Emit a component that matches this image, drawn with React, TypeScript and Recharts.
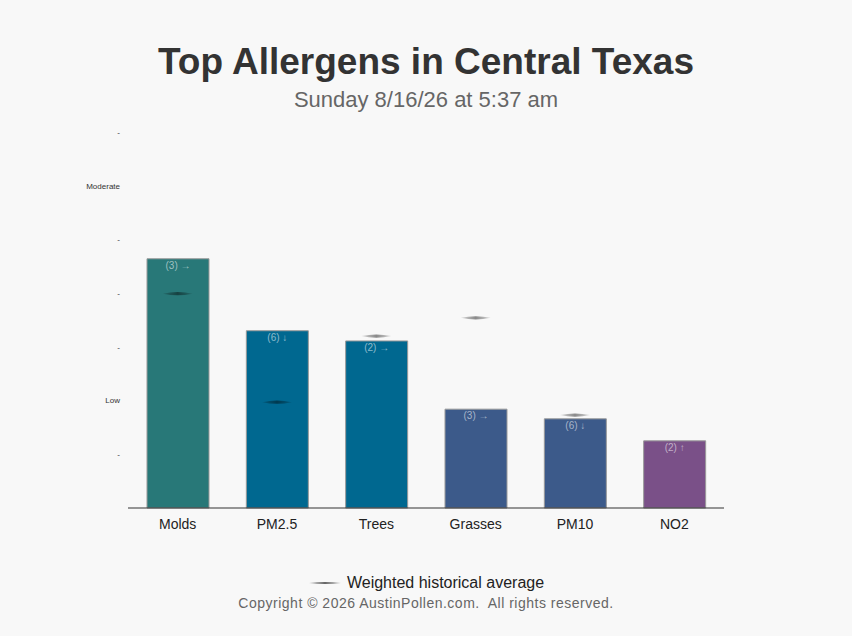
import React from "react";
import { ComposedChart, Bar, Scatter, XAxis, YAxis, Cell, LabelList } from "recharts";

const categories = ["Molds", "PM2.5", "Trees", "Grasses", "PM10", "NO2"];
const levels = [4.64, 3.3, 3.11, 1.84, 1.66, 1.25];
const averages: (number | null)[] = [3.99, 1.97, 3.2, 3.54, 1.73, null];
const counts = [3, 6, 2, 3, 6, 2];
const trends = ["→", "↓", "→", "→", "↓", "↑"];
const colors = ["#287878", "#006890", "#006890", "#3c5a8a", "#3c5a8a", "#7a5088"];
const yTicks = [0, 1, 2, 3, 4, 5, 6, 7];
const yTickLabels = ["", "-", "Low", "-", "-", "-", "Moderate", "-"];

const data = categories.map((name, i) => ({
  name,
  level: levels[i],
  avg: averages[i],
  label: `(${counts[i]}) ${trends[i]}`,
}));

const FONT = "'Liberation Sans', Arial, Helvetica, sans-serif";

const Lens = (props: any) => {
  const { cx, cy, payload } = props;
  if (payload == null || payload.avg == null || cx == null || cy == null) return null;
  const w = 15;
  return (
    <path
      d={`M${cx - w},${cy} Q${cx},${cy - 3.2} ${cx + w},${cy} Q${cx},${cy + 3.2} ${cx - w},${cy} Z`}
      fill="url(#lensGrad)"
    />
  );
};

const BarTopLabel = (props: any) => {
  const { x, y, width, value } = props;
  return (
    <text
      x={x + width / 2}
      y={y + 10}
      textAnchor="middle"
      fontSize={10}
      fontFamily={FONT}
      fill="rgba(255,255,255,0.55)"
    >
      {value}
    </text>
  );
};

export default function App() {
  return (
    <div
      style={{
        position: "absolute",
        left: 0,
        top: 0,
        width: 852,
        height: 636,
        background: "#f8f8f8",
        fontFamily: FONT,
        overflow: "hidden",
      }}
    >
      <div
        style={{
          position: "absolute",
          left: 0,
          width: 852,
          top: 42,
          height: 40,
          lineHeight: "40px",
          textAlign: "center",
          fontSize: 37,
          fontWeight: "bold",
          color: "#333",
        }}
      >
        Top Allergens in Central Texas
      </div>
      <div
        style={{
          position: "absolute",
          left: 0,
          width: 852,
          top: 88,
          height: 24,
          lineHeight: "24px",
          textAlign: "center",
          fontSize: 22,
          color: "#666",
        }}
      >
        Sunday 8/16/26 at 5:37 am
      </div>
      <div style={{ position: "absolute", left: 0, top: 0 }}>
        <ComposedChart
          width={852}
          height={636}
          data={data}
          margin={{ top: 132, right: 128, bottom: 98, left: 0 }}
        >
          <defs>
            <linearGradient id="lensGrad" x1="0" y1="0" x2="1" y2="0">
              <stop offset="0%" stopColor="#000" stopOpacity={0.12} />
              <stop offset="50%" stopColor="#000" stopOpacity={0.45} />
              <stop offset="100%" stopColor="#000" stopOpacity={0.12} />
            </linearGradient>
          </defs>
          <XAxis
            dataKey="name"
            type="category"
            height={30}
            tickLine={false}
            tickSize={6}
            tickMargin={5}
            axisLine={{ stroke: "#333", strokeWidth: 1 }}
            tick={{ fontSize: 14, fill: "#222", fontFamily: FONT }}
            interval={0}
          />
          <YAxis
            type="number"
            domain={[0, 7]}
            ticks={yTicks}
            width={128}
            axisLine={false}
            tickLine={false}
            tickSize={6}
            tickMargin={2}
            interval={0}
            tickFormatter={(v: number) => yTickLabels[yTicks.indexOf(v)] ?? ""}
            tick={{ fontSize: 8, fill: "#333", fontFamily: FONT }}
          />
          <Bar dataKey="level" barSize={62} stroke="#999" strokeWidth={1} isAnimationActive={false}>
            {data.map((d, i) => (
              <Cell key={d.name} fill={colors[i]} />
            ))}
            <LabelList dataKey="label" content={BarTopLabel} />
          </Bar>
          <Scatter dataKey="avg" shape={Lens} isAnimationActive={false} />
        </ComposedChart>
      </div>
      <div
        style={{
          position: "absolute",
          left: 0,
          width: 852,
          top: 574,
          height: 18,
          lineHeight: "18px",
          display: "flex",
          justifyContent: "center",
          alignItems: "center",
          fontSize: 16,
          color: "#222",
        }}
      >
        <svg width={34} height={6} style={{ marginRight: 5 }}>
          <path d="M1,3 Q17,1.2 33,3 Q17,4.8 1,3 Z" fill="url(#legGrad)" />
          <defs>
            <linearGradient id="legGrad" x1="0" y1="0" x2="1" y2="0">
              <stop offset="0%" stopColor="#000" stopOpacity={0.3} />
              <stop offset="50%" stopColor="#000" stopOpacity={0.6} />
              <stop offset="100%" stopColor="#000" stopOpacity={0.3} />
            </linearGradient>
          </defs>
        </svg>
        <span>Weighted historical average</span>
      </div>
      <div
        style={{
          position: "absolute",
          left: 0,
          width: 852,
          top: 594,
          height: 18,
          lineHeight: "18px",
          textAlign: "center",
          fontSize: 14,
          color: "#666",
          letterSpacing: "0.5px",
          whiteSpace: "pre",
        }}
      >
        {"Copyright © 2026 AustinPollen.com.  All rights reserved."}
      </div>
    </div>
  );
}
